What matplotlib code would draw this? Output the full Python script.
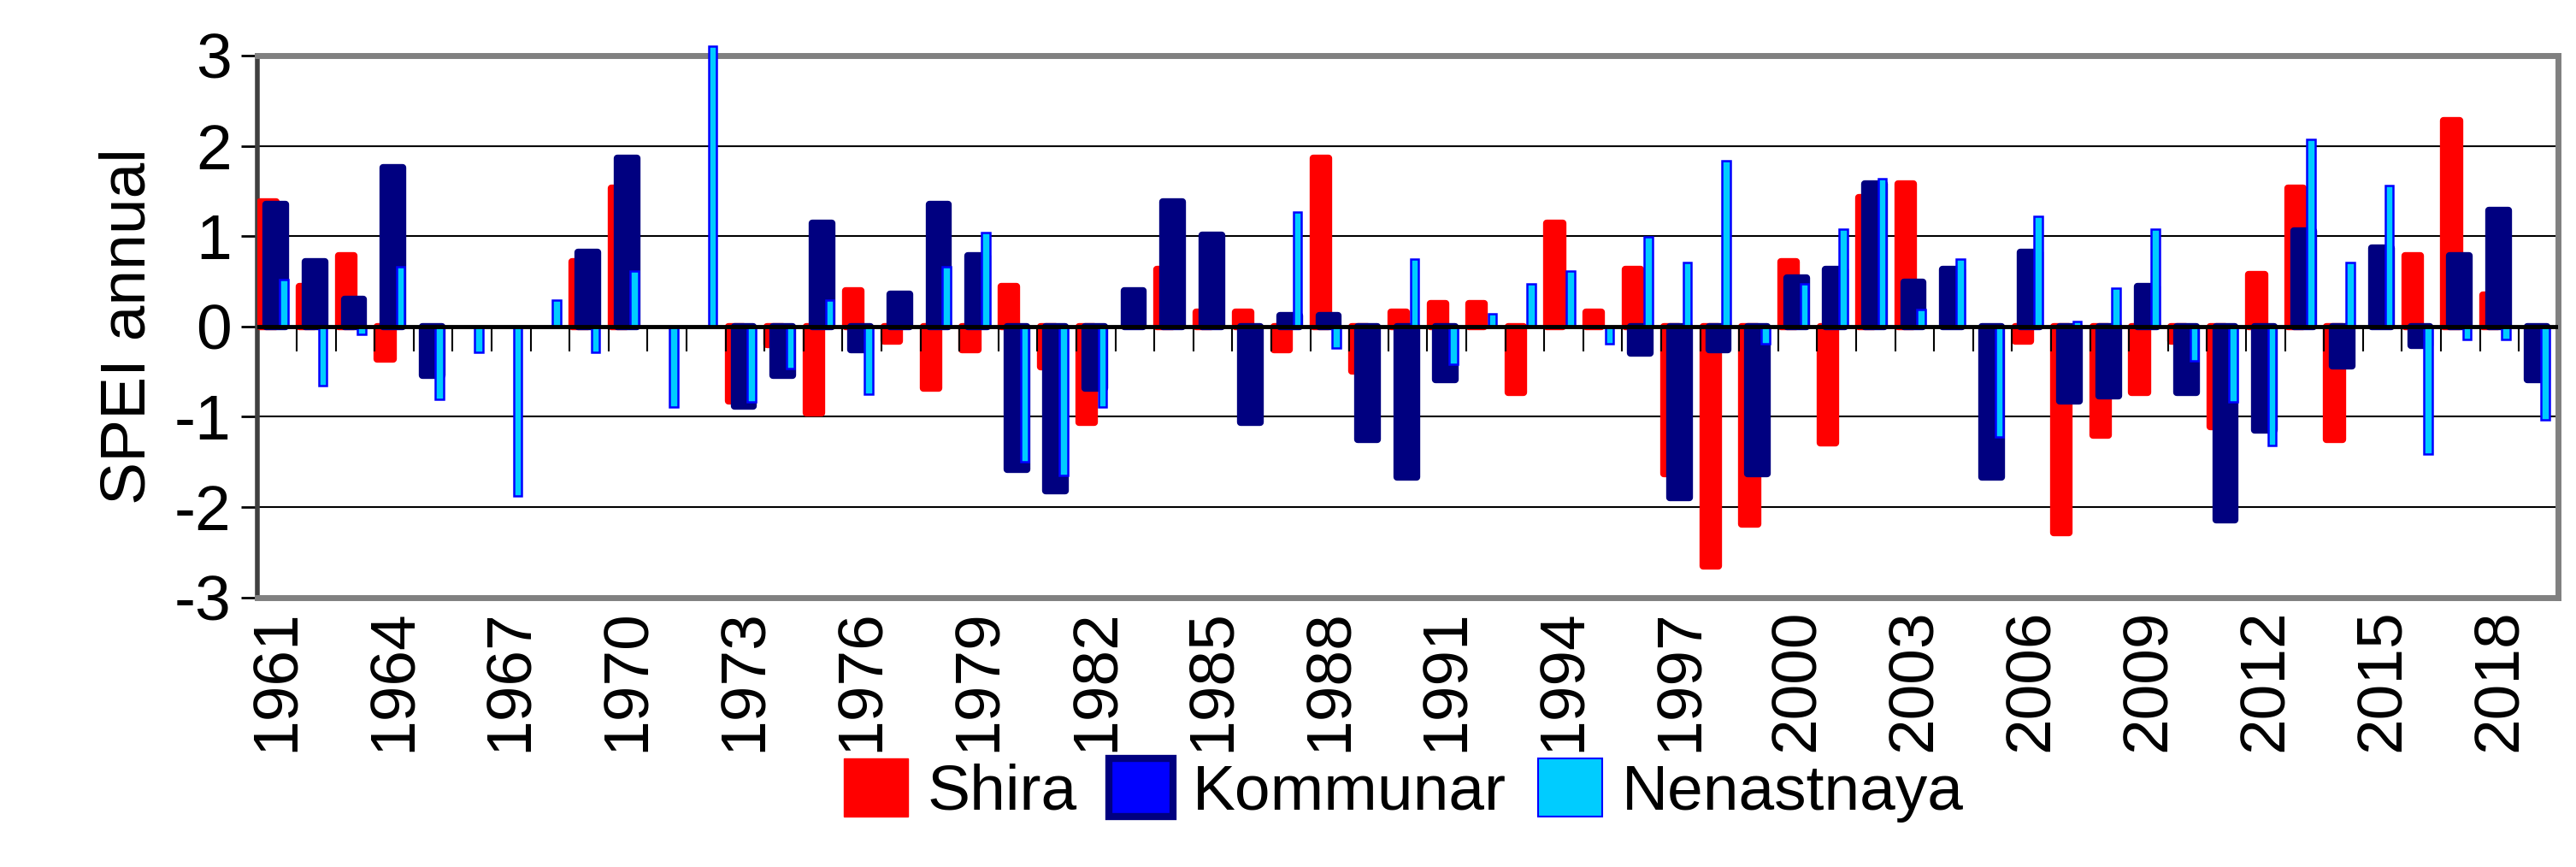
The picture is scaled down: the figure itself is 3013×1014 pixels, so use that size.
import matplotlib.pyplot as plt
import numpy as np
from matplotlib.patches import Patch

years = np.arange(1961, 2020)
nan = np.nan

shira = [1.38, 0.44, 0.78, -0.36, nan, nan, nan, nan, 0.72, 1.53,
         nan, nan, -0.83, -0.20, -0.96, 0.40, -0.16, -0.68, -0.26, 0.44,
         -0.45, -1.06, nan, 0.63, 0.16, 0.16, -0.26, 1.86, -0.49, 0.16,
         0.25, 0.25, -0.73, 1.14, 0.16, 0.63, -1.63, -2.65, -2.19, 0.72,
         -1.29, 1.43, 1.58, nan, nan, -0.16, -2.28, -1.20, -0.73, -0.16,
         -1.11, 0.58, 1.53, -1.25, nan, 0.78, 2.28, 0.35, nan]
kommunar = [1.35, 0.72, 0.30, 1.76, -0.54, nan, nan, nan, 0.82, 1.86,
            nan, nan, -0.88, -0.54, 1.14, -0.26, 0.36, 1.35, 0.78, -1.58,
            -1.82, -0.68, 0.40, 1.38, 1.01, -1.06, 0.12, 0.12, -1.25, -1.67,
            -0.59, nan, nan, nan, nan, -0.30, -1.90, -0.26, -1.63, 0.54,
            0.63, 1.58, 0.49, 0.63, -1.67, 0.82, -0.83, -0.77, 0.44, -0.73,
            -2.14, -1.15, 1.06, -0.44, 0.87, -0.21, 0.78, 1.29, -0.59]
nenastnaya = [0.52, -0.66, -0.09, 0.66, -0.81, -0.29, -1.88, 0.29, -0.29, 0.61,
              -0.89, 3.10, -0.84, -0.47, 0.29, -0.75, nan, 0.66, 1.04, -1.50,
              -1.65, -0.89, nan, nan, nan, nan, 1.27, -0.24, nan, 0.75,
              -0.42, 0.14, 0.47, 0.61, -0.19, 0.99, 0.71, 1.83, -0.19, 0.47,
              1.08, 1.64, 0.19, 0.75, -1.22, 1.22, 0.05, 0.42, 1.08, -0.38,
              -0.84, -1.32, 2.07, 0.71, 1.56, -1.41, -0.14, -0.14, -1.03]

plt.rcParams["font.family"] = ["Liberation Sans", "DejaVu Sans"]
FS = 54
fig = plt.figure(figsize=(30.13, 10.14), dpi=100)
ax = fig.add_axes([0.1, 0.311, 0.893, 0.625])

x = np.arange(len(years)) + 0.5
ax.bar(x - 0.23, shira, width=0.40, color="#ff0000", edgecolor="#ff0000",
       linewidth=6, joinstyle="round", zorder=3)
ax.bar(x - 0.03, kommunar, width=0.50, color="#000080", edgecolor="#000080",
       linewidth=6, joinstyle="round", zorder=4)
ax.bar(x + 0.17, nenastnaya, width=0.21, color="#00ccff", edgecolor="#0000ff",
       linewidth=1.8, zorder=5, clip_on=False)

ax.set_xlim(0, len(years))
ax.set_ylim(-3, 3)
ax.set_yticks(np.arange(-3, 4))
ax.set_yticklabels([str(v) for v in range(-3, 4)], fontsize=FS)
ax.yaxis.grid(True, color="black", linewidth=1.5, zorder=0)
ax.axhline(0, color="black", linewidth=3.5, zorder=6)
ax.vlines(np.arange(1, len(years)), -0.28, 0, color="black", linewidth=1.5, zorder=6)
ax.tick_params(axis="y", length=14, width=2, pad=8)

ax.set_xticks(x[::3])
ax.set_xticklabels([str(y) for y in years[::3]], rotation=90, fontsize=FS)
ax.tick_params(axis="x", length=0, pad=10)

for side in ["top", "right", "bottom"]:
    ax.spines[side].set_color("#808080")
    ax.spines[side].set_linewidth(5)
ax.spines["left"].set_color("#404040")
ax.spines["left"].set_linewidth(4)

ax.set_ylabel("SPEI annual", fontsize=FS, labelpad=14)

handles = [Patch(facecolor="#ff0000", edgecolor="#ff0000"),
           Patch(facecolor="#0000ff", edgecolor="#000080", linewidth=6),
           Patch(facecolor="#00ccff", edgecolor="#0000ff", linewidth=1.5)]
fig.legend(handles, ["Shira", "Kommunar", "Nenastnaya"], loc="lower center",
           bbox_to_anchor=(0.545, -0.015), ncol=3, frameon=False, fontsize=FS,
           handlelength=1.0, handleheight=1.0, handletextpad=0.3, columnspacing=0.5)

fig.savefig("out.png", dpi=100)
